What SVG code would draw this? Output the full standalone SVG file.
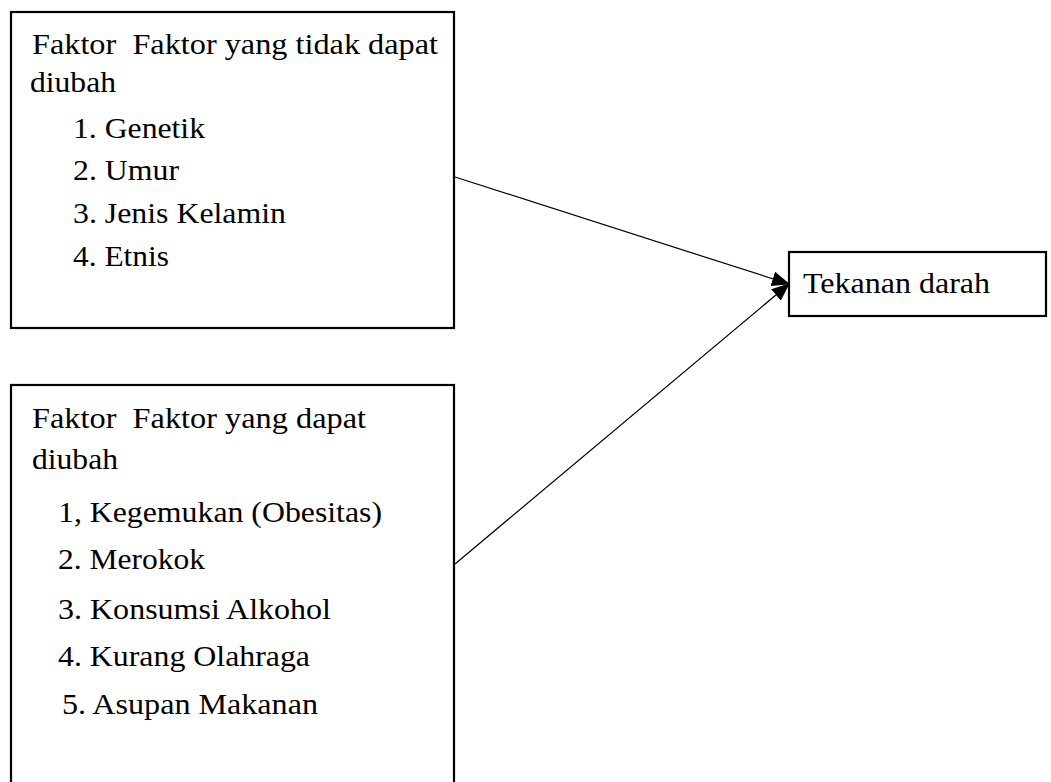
<svg xmlns="http://www.w3.org/2000/svg" width="1051" height="782" viewBox="0 0 1051 782">
<style>
.box{fill:#fff;stroke:#000;stroke-width:2.2}
.t{font-family:"Liberation Serif","Times New Roman",serif;font-size:30px;fill:#000}
.c{stroke:#000;stroke-width:1.2;fill:none}
</style>
<defs>
<marker id="ah" markerWidth="18" markerHeight="15" refX="17" refY="7.5" orient="auto" markerUnits="userSpaceOnUse">
<path d="M0,0 L18,7.5 L0,15 Z" fill="#000"/>
</marker>
</defs>
<rect width="1051" height="782" fill="#fff"/>
<g id="node-tidak">
<rect class="box" x="11" y="12" width="443" height="316"/>
<text class="t" x="32" y="54" textLength="406" lengthAdjust="spacingAndGlyphs" xml:space="preserve">Faktor  Faktor yang tidak dapat</text>
<text class="t" x="30" y="92" textLength="86" lengthAdjust="spacingAndGlyphs">diubah</text>
<text class="t" x="73" y="138" textLength="132" lengthAdjust="spacingAndGlyphs">1. Genetik</text>
<text class="t" x="73" y="180" textLength="106" lengthAdjust="spacingAndGlyphs">2. Umur</text>
<text class="t" x="73" y="223" textLength="213" lengthAdjust="spacingAndGlyphs">3. Jenis Kelamin</text>
<text class="t" x="73" y="266" textLength="96" lengthAdjust="spacingAndGlyphs">4. Etnis</text>
</g>
<g id="node-dapat">
<rect class="box" x="11" y="385" width="443" height="420"/>
<text class="t" x="32" y="428" textLength="334" lengthAdjust="spacingAndGlyphs" xml:space="preserve">Faktor  Faktor yang dapat</text>
<text class="t" x="32" y="469" textLength="86" lengthAdjust="spacingAndGlyphs">diubah</text>
<text class="t" x="58" y="522" textLength="324" lengthAdjust="spacingAndGlyphs">1, Kegemukan (Obesitas)</text>
<text class="t" x="58" y="569" textLength="147" lengthAdjust="spacingAndGlyphs">2. Merokok</text>
<text class="t" x="58" y="619" textLength="273" lengthAdjust="spacingAndGlyphs">3. Konsumsi Alkohol</text>
<text class="t" x="58" y="666" textLength="252" lengthAdjust="spacingAndGlyphs">4. Kurang Olahraga</text>
<text class="t" x="62" y="714" textLength="256" lengthAdjust="spacingAndGlyphs">5. Asupan Makanan</text>
</g>
<g id="node-tekanan">
<rect class="box" x="789" y="252" width="257" height="64"/>
<text class="t" x="803" y="293" textLength="187" lengthAdjust="spacingAndGlyphs">Tekanan darah</text>
</g>
<g id="connectors">
<line class="c" x1="455" y1="177" x2="789" y2="284" marker-end="url(#ah)"/>
<line class="c" x1="455" y1="564" x2="789" y2="284" marker-end="url(#ah)"/>
</g>
</svg>
